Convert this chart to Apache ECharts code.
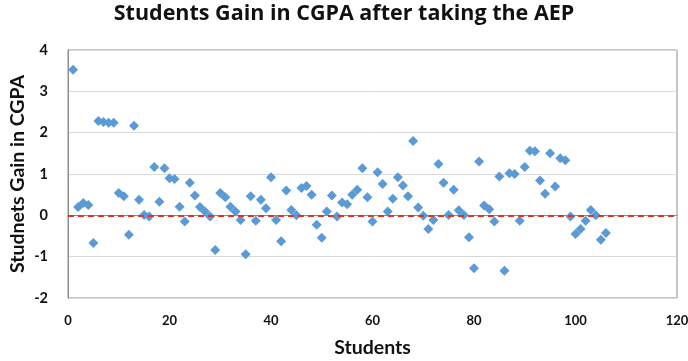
<!DOCTYPE html>
<html>
<head>
<meta charset="utf-8">
<script src="https://cdn.jsdelivr.net/npm/echarts@6/dist/echarts.min.js"></script>
<style>
  html, body { margin: 0; padding: 0; background: #fff; }
  #chart { width: 688px; height: 361px; }
</style>
</head>
<body>
<div id="chart"></div>
<script>
// Student number and gain in CGPA for each student
const students = [];
for (let i = 1; i <= 106; i++) students.push(i);

const gains = [
  3.52, 0.20, 0.30, 0.25, -0.67, 2.28, 2.26, 2.24, 2.24, 0.54,
  0.46, -0.47, 2.17, 0.38, 0.01, -0.03, 1.17, 0.33, 1.14, 0.90,
  0.88, 0.21, -0.15, 0.79, 0.48, 0.20, 0.09, -0.03, -0.84, 0.54,
  0.44, 0.21, 0.09, -0.11, -0.94, 0.46, -0.13, 0.38, 0.17, 0.92,
  -0.11, -0.63, 0.60, 0.13, 0.00, 0.66, 0.71, 0.50, -0.23, -0.54,
  0.09, 0.48, -0.03, 0.31, 0.27, 0.50, 0.62, 1.14, 0.44, -0.15,
  1.04, 0.76, 0.09, 0.40, 0.92, 0.72, 0.46, 1.80, 0.19, -0.01,
  -0.33, -0.11, 1.24, 0.79, 0.01, 0.62, 0.12, 0.01, -0.53, -1.28,
  1.30, 0.24, 0.15, -0.15, 0.94, -1.34, 1.02, 1.00, -0.13, 1.17,
  1.56, 1.55, 0.84, 0.52, 1.50, 0.70, 1.38, 1.33, -0.03, -0.45,
  -0.33, -0.13, 0.13, 0.00, -0.59, -0.43
];

const xTicks = [0, 20, 40, 60, 80, 100, 120];
const yTicks = [-2, -1, 0, 1, 2, 3, 4];
const referenceLevel = 0;

const points = students.map((s, i) => [s, gains[i]]);

const FONT = 'Lato, "Open Sans", sans-serif';

const chart = echarts.init(document.getElementById('chart'), null, { renderer: 'canvas' });
chart.setOption({
  animation: false,
  backgroundColor: '#ffffff',
  title: {
    text: 'Students Gain in CGPA after taking the AEP',
    left: 'center',
    top: -2,
    textStyle: { fontFamily: '"Open Sans", sans-serif', fontWeight: 'bold', fontSize: 21.5, color: '#111111' }
  },
  grid: {
    left: 68, right: 11, top: 50, bottom: 63,
    outerBoundsMode: 'none',
    containLabel: false,
    show: true, borderColor: '#8c8c8c', borderWidth: 1, backgroundColor: 'transparent'
  },
  xAxis: {
    type: 'value',
    min: xTicks[0], max: xTicks[xTicks.length - 1], interval: 20,
    name: 'Students',
    nameLocation: 'middle',
    nameGap: 40,
    nameTextStyle: { fontFamily: FONT, fontWeight: 'bold', fontSize: 19.5, color: '#111111' },
    axisLine: { show: true, lineStyle: { color: '#8c8c8c' } },
    axisTick: { show: false },
    splitLine: { show: false },
    axisLabel: { margin: 16, fontFamily: FONT, fontWeight: 'bold', fontSize: 13, color: '#111111' }
  },
  yAxis: {
    type: 'value',
    min: yTicks[0], max: yTicks[yTicks.length - 1], interval: 1,
    name: 'Studnets Gain in CGPA',
    nameLocation: 'middle',
    nameGap: 40,
    nameMoveOverlap: false,
    nameRotate: 90,
    nameTextStyle: { fontFamily: FONT, fontWeight: 'bold', fontSize: 19.5, color: '#111111' },
    axisLine: { show: true, lineStyle: { color: '#8c8c8c' } },
    axisTick: { show: false },
    splitLine: { show: true, lineStyle: { color: '#d9d9d9', width: 1 } },
    axisLabel: { margin: 20, fontFamily: FONT, fontWeight: 'bold', fontSize: 14.5, color: '#111111' }
  },
  series: [{
    type: 'scatter',
    data: points,
    symbol: 'diamond',
    symbolSize: 10,
    itemStyle: { color: '#5b9bd5', opacity: 1 },
    markLine: {
      silent: true,
      symbol: 'none',
      label: { show: false },
      lineStyle: { color: '#e8321e', width: 2, type: [6, 4] },
      data: [{ yAxis: referenceLevel }]
    }
  }]
});
</script>
</body>
</html>
